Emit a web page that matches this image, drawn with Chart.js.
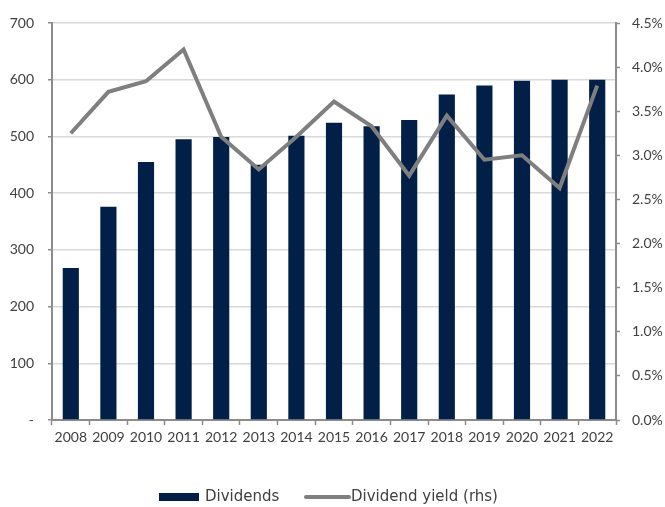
<!DOCTYPE html>
<html>
<head>
<meta charset="utf-8">
<script src="https://cdn.jsdelivr.net/npm/chart.js@4.4.1/dist/chart.umd.min.js"></script>
<style>
  html, body { margin: 0; padding: 0; background: #ffffff; }
  #wrap { width: 665px; height: 507px; position: relative; }
</style>
</head>
<body>
<div id="wrap"><canvas id="chart" width="665" height="507"></canvas></div>
<script>
// Annual dividends (left axis) and dividend yield in % (right axis)
const years = ['2008','2009','2010','2011','2012','2013','2014','2015','2016','2017','2018','2019','2020','2021','2022'];
const dividends = [268, 376, 455, 495, 499, 450, 501, 524, 518, 529, 574, 590, 598, 600, 600];
const dividendYield = [3.25, 3.72, 3.84, 4.20, 3.21, 2.84, 3.21, 3.61, 3.33, 2.77, 3.45, 2.95, 3.00, 2.63, 3.79];
const seriesNames = ['Dividends', 'Dividend yield (rhs)'];

const NAVY = '#022047';
const LINE_GREY = '#7f7f7f';
const AXIS_GREY = '#8c8c8c';
const GRID_GREY = '#d9d9d9';
const TEXT = '#404040';
const FONT = 'Lato, "DejaVu Sans", sans-serif';
const LEGEND_FONT = '15px "DejaVu Sans", sans-serif';

Chart.defaults.font.family = FONT;
Chart.defaults.font.size = 14;
Chart.defaults.color = TEXT;

// Legend row under the axis: a bar swatch and a line swatch, each followed by its name
const bottomLegend = {
  id: 'bottomLegend',
  afterDraw(chart) {
    const ctx = chart.ctx;
    const y = 497;
    const barSet = chart.data.datasets.find(d => d.type === 'bar');
    const lineSet = chart.data.datasets.find(d => d.type === 'line');
    ctx.save();
    ctx.font = LEGEND_FONT;
    ctx.fillStyle = TEXT;
    ctx.textBaseline = 'middle';
    ctx.textAlign = 'left';

    // bar swatch
    ctx.fillStyle = barSet.backgroundColor;
    ctx.fillRect(159, y - 4, 40, 8);
    ctx.fillStyle = TEXT;
    ctx.fillText(barSet.label, 205, y);

    // line swatch
    ctx.strokeStyle = lineSet.borderColor;
    ctx.lineWidth = 4;
    ctx.lineCap = 'round';
    ctx.beginPath();
    ctx.moveTo(306, y);
    ctx.lineTo(349, y);
    ctx.stroke();
    ctx.fillStyle = TEXT;
    ctx.fillText(lineSet.label, 351, y);
    ctx.restore();
  }
};

new Chart(document.getElementById('chart'), {
  data: {
    labels: years,
    datasets: [
      {
        type: 'line',
        label: seriesNames[1],
        data: dividendYield,
        yAxisID: 'y1',
        borderColor: LINE_GREY,
        backgroundColor: LINE_GREY,
        borderWidth: 4,
        pointRadius: 0,
        tension: 0,
        order: 0
      },
      {
        type: 'bar',
        label: seriesNames[0],
        data: dividends,
        yAxisID: 'y',
        backgroundColor: NAVY,
        borderWidth: 0,
        barPercentage: 0.43,
        categoryPercentage: 1.0,
        order: 1
      }
    ]
  },
  options: {
    responsive: false,
    animation: false,
    layout: { padding: { top: 23, right: 0, bottom: 57, left: 0 } },
    plugins: {
      tooltip: { enabled: false },
      legend: { display: false }
    },
    scales: {
      x: {
        offset: true,
        grid: {
          offset: true,
          drawOnChartArea: false,
          drawTicks: true,
          tickLength: 5,
          tickColor: AXIS_GREY,
          tickWidth: 1.5
        },
        border: { display: true, color: AXIS_GREY, width: 2 },
        ticks: { padding: 4, color: TEXT, maxRotation: 0, autoSkip: false },
        afterFit: (s) => { s.height = 30; }
      },
      y: {
        position: 'left',
        min: 0,
        max: 700,
        ticks: {
          stepSize: 100,
          padding: 14,
          color: TEXT,
          callback: (v) => (v === 0 ? '-' : v)
        },
        grid: {
          color: GRID_GREY,
          lineWidth: 1.5,
          tickLength: 4,
          tickColor: AXIS_GREY,
          tickWidth: 1.5
        },
        border: { display: true, color: AXIS_GREY, width: 2 },
        afterFit: (s) => { s.width = 52; }
      },
      y1: {
        position: 'right',
        min: 0,
        max: 4.5,
        ticks: {
          stepSize: 0.5,
          padding: 12,
          color: TEXT,
          callback: (v) => v.toFixed(1) + '%'
        },
        grid: {
          drawOnChartArea: false,
          tickLength: 4,
          tickColor: AXIS_GREY,
          tickWidth: 1.5
        },
        border: { display: true, color: AXIS_GREY, width: 2 },
        afterFit: (s) => { s.width = 49; }
      }
    }
  },
  plugins: [bottomLegend]
});
</script>
</body>
</html>
